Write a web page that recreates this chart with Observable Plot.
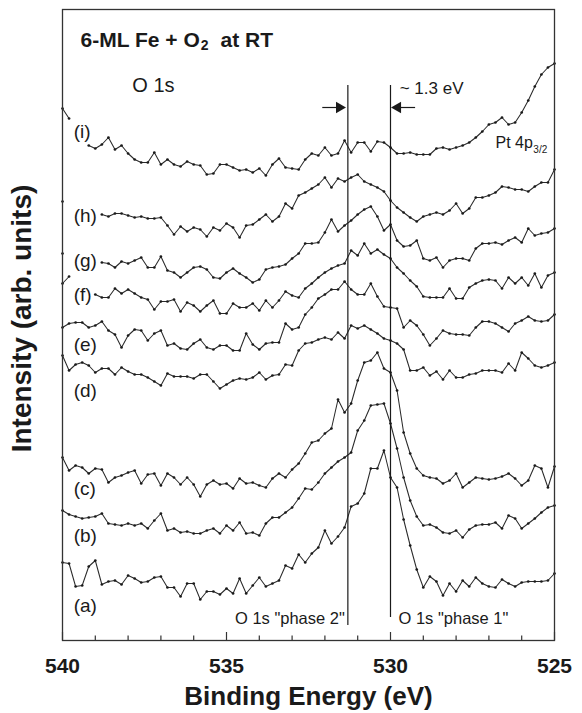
<!DOCTYPE html>
<html>
<head>
<meta charset="utf-8">
<script src="https://cdn.jsdelivr.net/npm/d3@7"></script>
<script src="https://cdn.jsdelivr.net/npm/@observablehq/plot@0.6"></script>
<style>
  html, body { margin: 0; padding: 0; background: #fff; }
  #chart svg { display: block; }
</style>
</head>
<body>
<div id="chart"></div>
<script>
// Binding energy grid of the spectra (eV), 540 -> 525 in 0.2 eV steps
const energies = d3.range(0, 76).map(k => +(540 - 0.2 * k).toFixed(1));

// Stacked O 1s spectra, intensity in arbitrary units (offsets included).
// null = point hidden behind the curve label in the original figure.
const spectrumA = [78,77,54,55,74,80,56,59,60,56,65,62,58,59,63,64,53,53,44,57,57,41,49,49,46,52,47,62,47,55,63,54,57,60,75,72,86,78,87,93,110,97,104,113,134,137,147,172,172,190,163,153,121,95,71,53,64,59,45,57,49,60,54,63,57,54,53,61,57,54,58,59,59,59,60,67];
const spectrumB = [130,126,124,122,123,124,127,117,116,115,117,115,117,112,120,127,110,112,108,109,107,107,110,112,107,115,110,118,107,108,105,117,123,123,128,133,142,152,151,158,167,173,179,183,188,210,220,235,236,237,217,192,163,140,124,115,116,113,108,107,110,103,111,115,116,116,118,112,125,122,112,117,122,128,133,135];
const spectrumC = [183,170,175,173,167,172,171,158,163,165,168,170,157,166,167,155,167,163,156,163,156,144,156,160,156,157,152,162,157,158,155,153,162,167,163,171,177,187,198,200,207,212,241,228,237,260,278,280,288,272,268,250,208,187,172,165,163,162,157,160,167,153,158,163,162,161,162,164,167,162,155,160,175,172,153,174];
const spectrumD = [285,270,276,278,275,268,272,272,266,273,269,266,266,263,259,255,267,264,264,264,262,266,266,259,252,256,260,262,261,263,268,261,265,266,276,275,290,297,298,301,303,301,308,302,315,312,315,311,307,302,300,297,291,270,270,273,265,269,261,270,263,263,266,267,270,270,270,268,277,270,288,282,275,273,275,278];
const spectrumE = [313,317,318,318,313,315,319,310,306,293,305,311,310,300,307,310,295,297,292,291,297,301,293,291,295,295,290,290,307,296,291,297,298,298,317,311,313,326,333,342,346,351,351,359,351,346,346,357,344,334,333,332,313,320,315,306,295,302,310,307,306,306,305,313,319,319,317,313,309,317,320,324,320,319,320,326];
const spectrumF = [357,364,null,null,null,346,343,343,352,347,351,347,343,341,331,339,339,341,329,338,335,329,335,340,327,327,337,333,333,337,330,340,333,340,349,345,343,352,357,363,368,372,375,377,390,385,397,387,391,386,382,373,367,360,354,344,343,343,343,352,342,342,353,357,360,361,360,352,363,357,363,355,367,353,365,368];
const spectrumG = [387,null,null,null,null,null,378,377,373,379,377,380,383,373,373,384,370,368,363,368,373,374,371,363,362,368,372,367,363,358,361,371,373,374,376,382,387,397,397,398,408,421,409,415,420,426,431,434,424,410,416,400,394,395,400,382,380,383,373,380,382,382,380,392,397,397,398,396,400,403,398,412,405,407,408,412];
const spectrumH = [439,null,null,null,null,null,426,424,427,427,425,423,424,422,422,423,415,406,414,409,413,411,404,413,410,417,413,403,415,416,421,426,419,424,437,432,445,448,452,456,463,453,462,459,463,466,459,456,453,449,440,433,428,423,419,424,426,428,426,430,437,427,432,443,443,445,448,454,453,451,451,449,454,458,458,471];
const spectrumI = [532,522,null,null,495,492,496,503,491,495,487,481,478,478,488,476,481,476,474,479,476,475,466,467,476,476,473,470,471,468,472,465,476,482,473,472,471,481,487,485,493,485,487,500,488,498,498,489,499,498,493,487,487,488,486,486,486,492,493,491,493,495,498,503,509,516,518,523,516,518,528,540,554,566,573,577];

const seriesNames = ["(a)", "(b)", "(c)", "(d)", "(e)", "(f)", "(g)", "(h)", "(i)"];
const seriesValues = [spectrumA, spectrumB, spectrumC, spectrumD, spectrumE, spectrumF, spectrumG, spectrumH, spectrumI];
// label anchor (intensity level) of each curve label, same order
const labelLevels = [35, 105, 152, 250, 296, 346, 380, 425, 509];

const majorTicks = [540, 535, 530, 525];
const minorTicks = d3.range(525, 541, 1).filter(d => !majorTicks.includes(d));

// O 1s component positions (eV)
const phaseEnergies = [531.3, 530.0];
const phaseNames = ['O 1s "phase 2"', 'O 1s "phase 1"'];

// rows for the library
const rows = [];
seriesNames.forEach((name, i) => {
  seriesValues[i].forEach((v, k) => rows.push({series: name, energy: energies[k], intensity: v}));
});
const labelRows = seriesNames.map((name, i) => ({name, level: labelLevels[i]}));

const FONT = "'Liberation Sans', Arial, Helvetica, sans-serif";
const ctx = document.createElement("canvas").getContext("2d");
function textWidth(s, size, weight) { ctx.font = `${weight} ${size}px ${FONT}`; return ctx.measureText(s).width; }

const titleSize = 21, subSize = 14;
const t1 = "6-ML Fe + O", t2 = "2", t3 = "  at RT";
const w1 = textWidth(t1, titleSize, "bold");
const w2 = textWidth(t2, subSize, "bold");
const ptW = textWidth("Pt 4p", 16, "normal");

const ink = "#1a1a1a";

const chart = Plot.plot({
  width: 582,
  height: 713,
  marginTop: 9,
  marginRight: 28,
  marginBottom: 73,
  marginLeft: 62,
  style: {fontFamily: FONT, background: "#fff", color: ink, overflow: "visible"},
  x: {domain: [540, 525], axis: null},
  y: {domain: [0, 631], axis: null},
  marks: [
    // spectra
    Plot.line(rows, {x: "energy", y: "intensity", z: "series", stroke: "#2a2a2a", strokeWidth: 1.05}),
    Plot.dot(rows, {x: "energy", y: "intensity", r: 1.35, fill: ink, stroke: null}),
    // component lines
    Plot.ruleX([phaseEnergies[0]], {x: d => d, y1: 15, y2: 555, stroke: ink, strokeWidth: 1.2}),
    Plot.ruleX([phaseEnergies[1]], {x: d => d, y1: 23, y2: 555, stroke: ink, strokeWidth: 1.2}),
    Plot.text([phaseNames[0]], {x: phaseEnergies[0], dx: -3, y: 22, textAnchor: "end", fontSize: 16.5, fill: ink}),
    Plot.text([phaseNames[1]], {x: phaseEnergies[1], dx: 8, y: 22, textAnchor: "start", fontSize: 16.5, fill: ink}),
    // ~1.3 eV arrows
    Plot.link([{x1: 532.08, x2: 531.62}, {x1: 529.25, x2: 529.70}], {x1: "x1", x2: "x2", y1: 533, y2: 533, stroke: ink, strokeWidth: 1.2}),
    Plot.dot([{x: 531.56, r: 90}, {x: 529.78, r: -90}], {x: "x", y: 533, symbol: "triangle", r: 4.3, rotate: "r", fill: ink, stroke: null}),
    Plot.text(["~ 1.3 eV"], {x: 529.72, y: 552, textAnchor: "start", fontSize: 17, fill: ink}),
    // annotations
    Plot.text([t1], {x: 539.45, y: 600, textAnchor: "start", fontSize: titleSize, fontWeight: "bold", fill: ink}),
    Plot.text([t2], {x: 539.45, dx: w1 + 0.5, y: 595, textAnchor: "start", fontSize: subSize, fontWeight: "bold", fill: ink}),
    Plot.text([t3], {x: 539.45, dx: w1 + w2 + 1, y: 600, textAnchor: "start", fontSize: titleSize, fontWeight: "bold", fill: ink}),
    Plot.text(["O 1s"], {x: 537.87, y: 555, textAnchor: "start", fontSize: 20, fill: ink}),
    Plot.text(["Pt 4p"], {x: 526.80, y: 498, textAnchor: "start", fontSize: 16, fill: ink}),
    Plot.text(["3/2"], {x: 526.80, dx: ptW + 0.5, y: 491, textAnchor: "start", fontSize: 10, fill: ink}),
    // curve labels
    Plot.text(labelRows, {x: 539.66, y: "level", text: "name", textAnchor: "start", fontSize: 19, fill: ink, stroke: "#fff", strokeWidth: 4}),
    // frame and axis
    Plot.frame({stroke: "#333", strokeWidth: 1.3}),
    Plot.ruleX(minorTicks, {x: d => d, y1: 0, y2: 4.5, stroke: "#333", strokeWidth: 1.2}),
    Plot.ruleX(majorTicks, {x: d => d, y1: 0, y2: 8, stroke: "#333", strokeWidth: 1.2}),
    Plot.text(majorTicks, {x: d => d, y: -26, text: d => String(d), fontSize: 21, fontWeight: "bold", fill: ink}),
    Plot.text(["Binding Energy (eV)"], {x: 532.5, y: -56, fontSize: 26, fontWeight: "bold", fill: ink}),
    Plot.text(["Intensity (arb. units)"], {x: 541.22, y: 322, rotate: -90, fontSize: 28, fontWeight: "bold", fill: ink})
  ]
});
document.getElementById("chart").appendChild(chart);
</script>
</body>
</html>
